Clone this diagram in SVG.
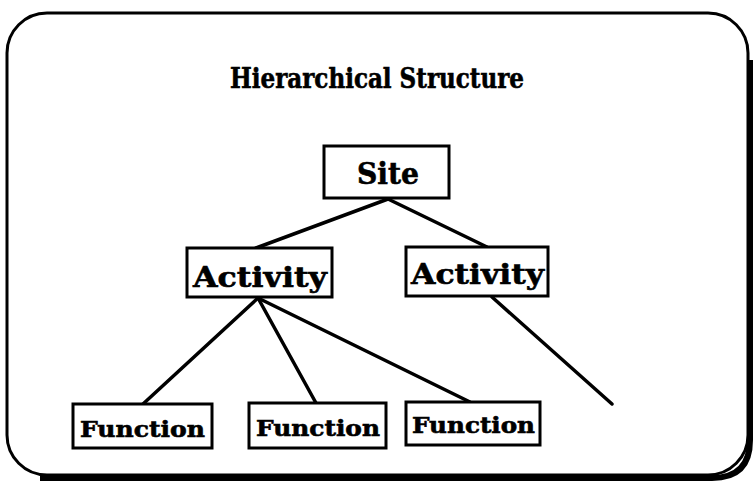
<svg xmlns="http://www.w3.org/2000/svg" width="755" height="485" viewBox="0 0 755 485">
<style>
.box{fill:#fff;stroke:#000;stroke-width:3}
.t{font-family:"DejaVu Serif","Liberation Serif",serif;font-weight:bold;fill:#000;stroke:#000;stroke-width:0.6;text-anchor:start}
.c{stroke:#000;stroke-width:3.5;fill:none;stroke-linecap:round}
</style>
<rect width="755" height="485" fill="#fff"/>
<path d="M750,60 L750,440 Q750,478 712,478 L40,478" fill="none" stroke="#000" stroke-width="6"/>
<rect x="7" y="13" width="741" height="462" rx="40" ry="40" fill="none" stroke="#000" stroke-width="3"/>
<text class="t" x="230" y="88" font-size="27" stroke-width="1" textLength="294" lengthAdjust="spacingAndGlyphs">Hierarchical Structure</text>
<g id="connectors">
<line class="c" x1="388" y1="199" x2="256" y2="248"/>
<line class="c" x1="388" y1="199" x2="487" y2="247"/>
<line class="c" x1="258" y1="298" x2="143" y2="404"/>
<line class="c" x1="258" y1="298" x2="316" y2="403"/>
<line class="c" x1="258" y1="298" x2="470" y2="402"/>
<line class="c" x1="492" y1="297" x2="612" y2="404"/>
</g>
<g id="site"><rect class="box" x="324" y="146" width="125" height="52"/><text class="t" x="357" y="184" font-size="30" textLength="62" lengthAdjust="spacingAndGlyphs">Site</text></g>
<g id="activity1"><rect class="box" x="187" y="248" width="145" height="49"/><text class="t" x="193" y="287" font-size="28" textLength="134" lengthAdjust="spacingAndGlyphs">Activity</text></g>
<g id="activity2"><rect class="box" x="406" y="247" width="142" height="49"/><text class="t" x="411" y="284" font-size="28" textLength="133" lengthAdjust="spacingAndGlyphs">Activity</text></g>
<g id="function1"><rect class="box" x="73" y="404" width="139" height="44"/><text class="t" x="80" y="437" font-size="22" textLength="125" lengthAdjust="spacingAndGlyphs">Function</text></g>
<g id="function2"><rect class="box" x="249" y="403" width="137" height="45"/><text class="t" x="256" y="436" font-size="22" textLength="124" lengthAdjust="spacingAndGlyphs">Function</text></g>
<g id="function3"><rect class="box" x="406" y="402" width="134" height="43"/><text class="t" x="412" y="433" font-size="22" textLength="123" lengthAdjust="spacingAndGlyphs">Function</text></g>
</svg>
